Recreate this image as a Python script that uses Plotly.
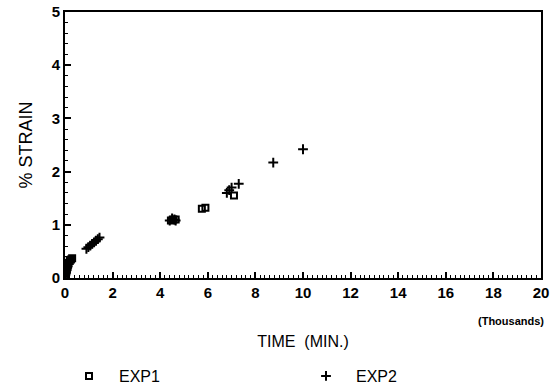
import plotly.graph_objects as go

# Time in thousands of minutes, strain in %
exp1_time = [0.0, 0.02, 0.04, 0.06, 0.08, 0.1, 0.12, 0.15, 0.2, 0.25, 0.3,
             4.45, 4.55, 4.65, 5.75, 5.9, 7.1]
exp1_strain = [0.02, 0.05, 0.08, 0.12, 0.16, 0.2, 0.24, 0.28, 0.32, 0.35, 0.37,
               1.08, 1.1, 1.1, 1.3, 1.32, 1.55]

exp2_time = [0.0, 0.03, 0.06, 0.1, 0.9, 0.98, 1.06, 1.14, 1.22, 1.3, 1.38, 1.45,
             4.4, 4.5, 4.6, 4.65, 6.8, 6.9, 7.0, 7.3, 8.75, 10.0]
exp2_strain = [0.04, 0.1, 0.15, 0.2, 0.55, 0.58, 0.61, 0.64, 0.67, 0.7, 0.73, 0.76,
               1.08, 1.12, 1.1, 1.08, 1.6, 1.65, 1.7, 1.77, 2.17, 2.42]

x_ticks = [0, 2, 4, 6, 8, 10, 12, 14, 16, 18, 20]
y_ticks = [0, 1, 2, 3, 4, 5]

fig = go.Figure()
fig.add_trace(go.Scatter(
    x=exp1_time, y=exp1_strain, mode="markers", name="EXP1", legend="legend",
    marker=dict(symbol="square-open", size=6, color="black", line=dict(width=2, color="black")),
))
fig.add_trace(go.Scatter(
    x=exp2_time, y=exp2_strain, mode="markers", name="EXP2", legend="legend2",
    marker=dict(symbol="cross-thin", size=7, color="black", line=dict(width=2, color="black")),
))

legend_font = dict(family="Liberation Sans", size=16, color="black")

fig.update_layout(
    width=555, height=392,
    margin=dict(l=65, r=14, t=12, b=114, autoexpand=False),
    paper_bgcolor="white", plot_bgcolor="white",
    font=dict(family="Liberation Sans", color="black"),
    showlegend=True,
    legend=dict(
        orientation="h", xref="container", yref="container", x=59 / 555, y=1 - 376 / 392,
        xanchor="left", yanchor="middle", font=legend_font, itemwidth=50,
    ),
    legend2=dict(
        orientation="h", xref="container", yref="container", x=296 / 555, y=1 - 376 / 392,
        xanchor="left", yanchor="middle", font=legend_font, itemwidth=50,
    ),
    xaxis=dict(
        range=[0, 20], tickvals=x_ticks, ticktext=[str(v) for v in x_ticks],
        ticks="inside", ticklen=6, tickwidth=1.5, tickcolor="black",
        minor=dict(dtick=0.2, ticks="inside", ticklen=3, tickcolor="black", tickwidth=1),
        showline=True, linecolor="black", linewidth=2, mirror=True,
        showgrid=False, zeroline=False,
        tickfont=dict(family="Liberation Sans", size=15, color="black", weight="bold"),
        title=dict(text="TIME  (MIN.)", font=dict(family="Liberation Sans", size=16, color="black"),
                   standoff=36),
    ),
    yaxis=dict(
        range=[0, 5], tickvals=y_ticks, ticktext=[str(v) for v in y_ticks],
        ticks="inside", ticklen=6, tickwidth=1.5, tickcolor="black",
        minor=dict(dtick=0.2, ticks="inside", ticklen=3, tickcolor="black", tickwidth=1),
        showline=True, linecolor="black", linewidth=2, mirror=True,
        showgrid=False, zeroline=False,
        tickfont=dict(family="Liberation Sans", size=15, color="black", weight="bold"),
        title=dict(text="% STRAIN", font=dict(family="Liberation Sans", size=18, color="black"),
                   standoff=14),
    ),
)

fig.add_annotation(
    text="(Thousands)", xref="paper", yref="paper", x=1.01, y=-0.16,
    xanchor="right", yanchor="middle", showarrow=False,
    font=dict(family="Liberation Sans", size=11, color="black", weight="bold"),
)

fig.write_html("out.html")
